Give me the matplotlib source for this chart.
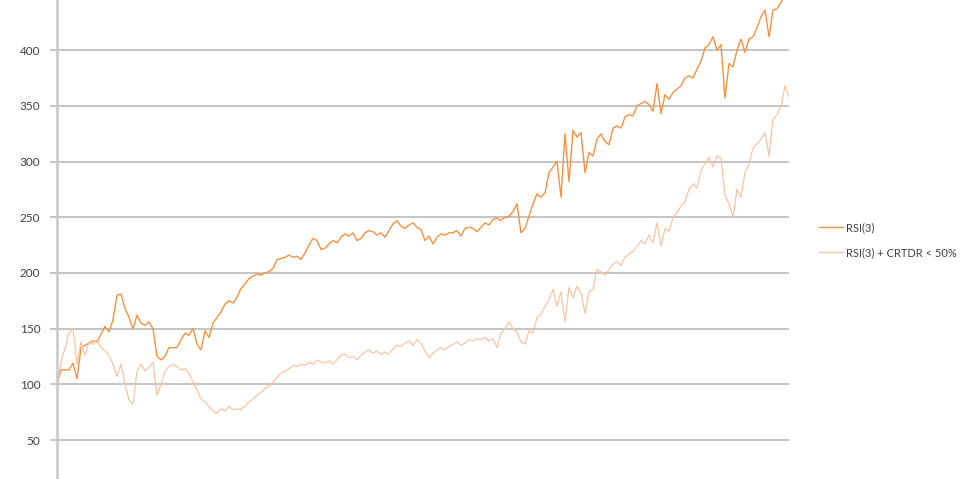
import matplotlib
matplotlib.use("Agg")
import matplotlib.pyplot as plt

plt.rcParams['font.family'] = ['Lato', 'DejaVu Sans']

# 曲线数据
rsi3 = [100, 113, 113, 113, 119, 105, 133, 135, 137, 139, 138, 145, 152, 147, 158, 180, 181, 168, 160, 150,
        162, 155, 153, 156, 150, 125, 122, 125, 133, 133, 133, 140, 146, 144, 150, 136, 131, 148, 142, 155,
        160, 165, 172, 175, 173, 178, 186, 190, 195, 197, 199, 198, 200, 201, 204, 212, 213, 214, 216, 214,
        215, 212, 218, 225, 231, 229, 221, 222, 226, 229, 227, 232, 235, 233, 236, 229, 231, 236, 238, 237,
        234, 236, 232, 238, 244, 247, 242, 240, 243, 245, 241, 239, 229, 233, 226, 232, 235, 234, 236, 236,
        238, 233, 240, 241, 240, 237, 241, 245, 243, 248, 249, 247, 250, 251, 255, 262, 236, 240, 251, 262,
        271, 268, 272, 290, 295, 300, 268, 325, 282, 328, 322, 326, 290, 308, 305, 320, 325, 318, 315, 330,
        332, 330, 340, 342, 341, 350, 352, 354, 351, 345, 370, 343, 360, 356, 362, 365, 368, 375, 377, 375,
        383, 390, 402, 405, 412, 400, 405, 357, 388, 385, 400, 410, 398, 410, 412, 420, 430, 436, 412, 436,
        437, 443, 450, 455]

rsi3_crtdr = [100, 120, 132, 146, 150, 118, 138, 126, 138, 136, 140, 133, 130, 126, 118, 107, 118, 100, 86, 82,
              112, 118, 112, 115, 120, 90, 100, 112, 116, 118, 116, 113, 114, 110, 102, 95, 87, 84, 80, 76,
              74, 78, 76, 80, 77, 78, 77, 81, 84, 87, 90, 93, 96, 99, 102, 106, 110, 112, 114, 117,
              116, 118, 117, 120, 118, 122, 120, 119, 121, 118, 122, 126, 127, 124, 125, 122, 126, 129, 131, 128,
              130, 127, 129, 127, 132, 135, 134, 137, 139, 135, 140, 137, 130, 124, 128, 131, 133, 131, 134, 136,
              138, 135, 137, 140, 139, 141, 140, 142, 139, 141, 133, 146, 150, 156, 150, 147, 138, 136, 148, 146,
              160, 163, 170, 176, 185, 170, 183, 156, 187, 178, 188, 182, 164, 183, 185, 203, 201, 198, 203, 208,
              210, 207, 214, 217, 219, 224, 229, 226, 234, 227, 245, 224, 240, 237, 250, 254, 260, 264, 275, 280,
              276, 292, 298, 304, 295, 305, 303, 270, 262, 250, 275, 268, 290, 298, 312, 316, 320, 326, 305, 338,
              342, 349, 368, 358]

labels = ["RSI(3)", "RSI(3) + CRTDR < 50%"]
y_ticks = [50, 100, 150, 200, 250, 300, 350, 400]

fig = plt.figure(figsize=(9.71, 4.79), dpi=100)
ax = fig.add_axes([57 / 971, 0, 732 / 971, 1])

x = list(range(len(rsi3)))
ax.plot(x, rsi3, color='#f7913d', linewidth=1.0, label=labels[0])
ax.plot(x, rsi3_crtdr, color='#f8c4a2', linewidth=0.9, label=labels[1])

ax.set_xlim(0, len(rsi3) - 1)
ax.set_ylim(15, 445)
ax.set_yticks(y_ticks)
ax.set_xticks([])
ax.grid(axis='y', color='#bfbfbf', linewidth=1.3)
ax.set_axisbelow(True)
for s in ['top', 'right', 'bottom']:
    ax.spines[s].set_visible(False)
ax.spines['left'].set_color('#c8c8c8')
ax.spines['left'].set_linewidth(1.8)
ax.tick_params(axis='y', length=5, width=1.3, color='#bfbfbf', labelsize=8.5, labelcolor='#404040', pad=7)

fig.legend(loc='upper left', bbox_to_anchor=(809 / 971, 1 - 212 / 479), frameon=False,
           fontsize=8, labelcolor='#404040', handlelength=2.2, handletextpad=0.25, labelspacing=1.25)

fig.savefig("out.png", dpi=100)
